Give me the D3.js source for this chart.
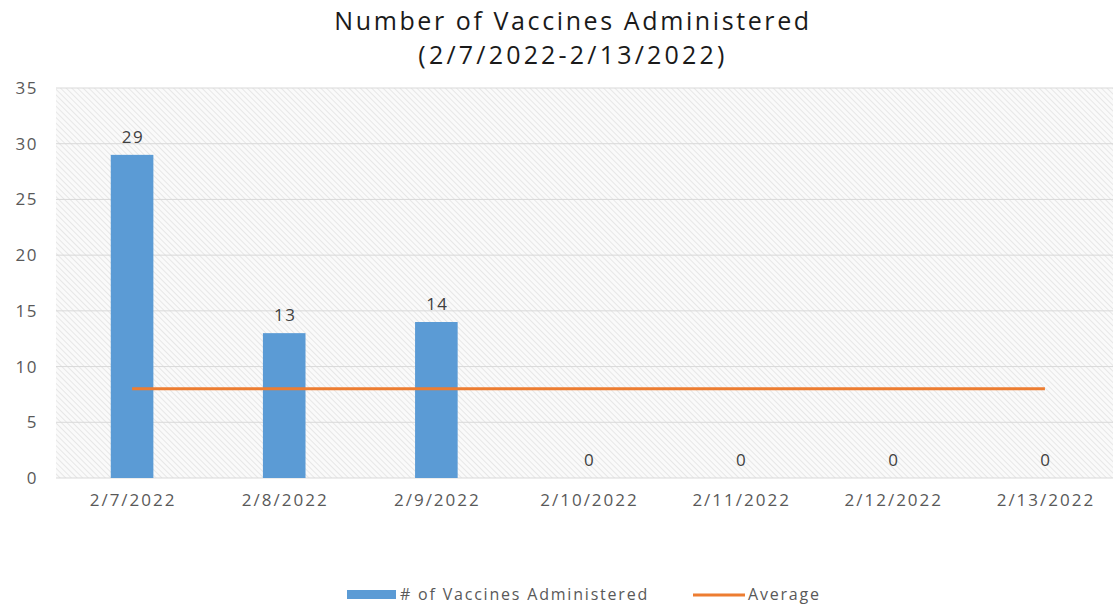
<!DOCTYPE html>
<html>
<head>
<meta charset="utf-8">
<script src="https://cdn.jsdelivr.net/npm/d3@7.9.0/dist/d3.min.js"></script>
<style>
  body { margin: 0; background: #fff; }
  svg { display: block; font-family: "Open Sans", "Noto Sans", sans-serif; }
</style>
</head>
<body>
<svg id="chart" width="1113" height="605"></svg>
<script>
const dates = ['2/7/2022', '2/8/2022', '2/9/2022', '2/10/2022', '2/11/2022', '2/12/2022', '2/13/2022'];
const vaccines = [29, 13, 14, 0, 0, 0, 0];
const average = [8, 8, 8, 8, 8, 8, 8];
const yTicks = [0, 5, 10, 15, 20, 25, 30, 35];

const svg = d3.select('#chart');
const plotLeft = 56, plotRight = 1121, plotTop = 88, plotBottom = 478;

const x = d3.scaleBand().domain(dates).range([plotLeft, plotRight]).paddingInner(0.72).paddingOuter(0.36);
const y = d3.scaleLinear().domain([0, 35]).range([plotBottom, plotTop]);
const cx = d => x(d) + x.bandwidth() / 2;

// hatched background
const defs = svg.append('defs');
const pat = defs.append('pattern')
  .attr('id', 'hatch')
  .attr('patternUnits', 'userSpaceOnUse')
  .attr('width', 4).attr('height', 4)
  .attr('patternTransform', 'rotate(-45)');
pat.append('rect').attr('width', 4).attr('height', 4).attr('fill', '#fafafa');
pat.append('line').attr('x1', 0).attr('y1', 0).attr('x2', 0).attr('y2', 4)
  .attr('stroke', '#dadada').attr('stroke-width', 1.2);

svg.append('rect')
  .attr('x', plotLeft).attr('y', plotTop)
  .attr('width', plotRight - plotLeft).attr('height', plotBottom - plotTop)
  .attr('fill', 'url(#hatch)');

// gridlines
svg.append('g')
  .selectAll('line')
  .data(yTicks)
  .enter()
  .append('line')
  .attr('x1', plotLeft).attr('x2', plotRight)
  .attr('y1', d => y(d)).attr('y2', d => y(d))
  .attr('stroke', '#d9d9d9').attr('stroke-width', 1);

// y axis labels
svg.append('g')
  .selectAll('text')
  .data(yTicks)
  .enter()
  .append('text')
  .attr('x', 38).attr('y', d => y(d))
  .attr('dy', '0.35em')
  .attr('text-anchor', 'end')
  .attr('fill', '#595959')
  .attr('font-size', 17)
  .attr('letter-spacing', 1.5)
  .text(d => d);

// x axis labels
svg.append('g')
  .selectAll('text')
  .data(dates)
  .enter()
  .append('text')
  .attr('x', d => cx(d) + 1).attr('y', 506)
  .attr('text-anchor', 'middle')
  .attr('fill', '#595959')
  .attr('font-size', 17)
  .attr('letter-spacing', 2)
  .text(d => d);

// bars
svg.append('g')
  .selectAll('rect')
  .data(vaccines)
  .enter()
  .append('rect')
  .attr('x', (d, i) => x(dates[i]))
  .attr('y', d => y(d))
  .attr('width', x.bandwidth())
  .attr('height', d => y(0) - y(d))
  .attr('fill', '#5b9bd5');

// data labels
svg.append('g')
  .selectAll('text')
  .data(vaccines)
  .enter()
  .append('text')
  .attr('x', (d, i) => cx(dates[i]) + 1)
  .attr('y', d => y(d) - 12)
  .attr('text-anchor', 'middle')
  .attr('fill', '#404040')
  .attr('font-size', 17)
  .attr('letter-spacing', 1.5)
  .text(d => d);

// average line
const line = d3.line().x((d, i) => cx(dates[i])).y(d => y(d));
svg.append('path')
  .datum(average)
  .attr('d', line)
  .attr('fill', 'none')
  .attr('stroke', '#ed7d31')
  .attr('stroke-width', 3);

// title
const title = svg.append('text')
  .attr('x', 573).attr('y', 30)
  .attr('text-anchor', 'middle')
  .attr('fill', '#1a1a1a')
  .attr('font-size', 25);
title.append('tspan').attr('x', 573).attr('letter-spacing', 2.6).text('Number of Vaccines Administered');
title.append('tspan').attr('x', 573).attr('dy', 34).attr('letter-spacing', 3.2).text('(2/7/2022-2/13/2022)');

// legend
const legend = svg.append('g').attr('fill', '#595959').attr('font-size', 16).attr('letter-spacing', 1.8);
legend.append('rect').attr('x', 347).attr('y', 590).attr('width', 49).attr('height', 9).attr('fill', '#5b9bd5');
legend.append('text').attr('x', 400).attr('y', 600).text('# of Vaccines Administered');
legend.append('line').attr('x1', 693).attr('x2', 745).attr('y1', 595).attr('y2', 595)
  .attr('stroke', '#ed7d31').attr('stroke-width', 3);
legend.append('text').attr('x', 748).attr('y', 600).text('Average');
</script>
</body>
</html>
